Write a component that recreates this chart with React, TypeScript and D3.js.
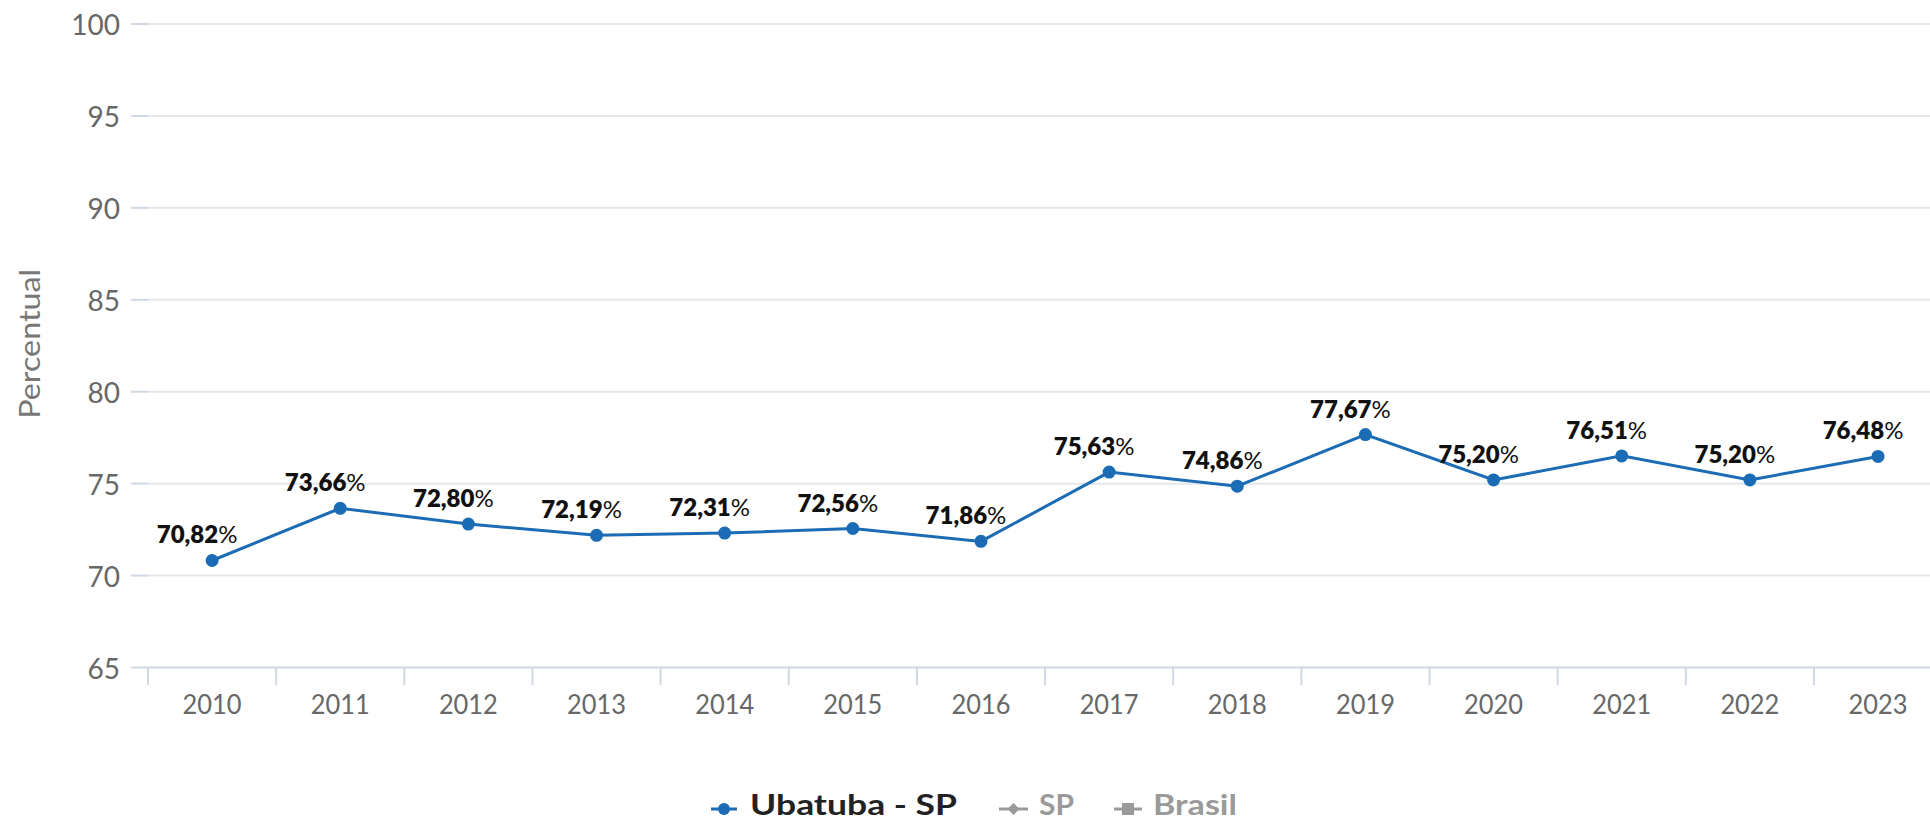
import React from "react";
import * as d3 from "d3";

const years = ["2010","2011","2012","2013","2014","2015","2016","2017","2018","2019","2020","2021","2022","2023"];
const ubatuba = [70.82,73.66,72.80,72.19,72.31,72.56,71.86,75.63,74.86,77.67,75.20,76.51,75.20,76.48];
const yTicks = [65,70,75,80,85,90,95,100];
const legendItems = ["Ubatuba - SP", "SP", "Brasil"];

const W = 1930, H = 822;
const FONT = "Lato, 'Open Sans', sans-serif";
const BLUE = "#1b6cb4";

export default function App() {
  const band = 128.15;
  const x = d3.scaleBand<string>().domain(years).range([148, 148 + band * years.length]).padding(0);
  const y = d3.scaleLinear().domain([65, 100]).range([667.5, 24]);
  const cx = (yr: string) => (x(yr) as number) + x.bandwidth() / 2;
  const line = d3.line<number>().x((_, i) => cx(years[i])).y(d => y(d));
  const fmt = (v: number) => v.toFixed(2).replace(".", ",");
  const LY = 809, LB = 815;

  return (
    <svg width={W} height={H} style={{ position: "absolute", left: 0, top: 0, background: "#fff" }} fontFamily={FONT}>
      {/* grid */}
      {yTicks.map(t => (
        <g key={t}>
          <line x1={148} x2={W} y1={y(t)} y2={y(t)} stroke={t === 65 ? "#cfd8e3" : "#e3e7ec"} strokeWidth={2} />
          <line x1={131} x2={148} y1={y(t)} y2={y(t)} stroke="#cfd8e3" strokeWidth={2} />
          <text x={120} y={y(t)} textAnchor="end" dominantBaseline="central" fontSize={28} fill="#676767">{t}</text>
        </g>
      ))}
      {/* x ticks */}
      {years.map(yr => (
        <line key={"t" + yr} x1={x(yr) as number} x2={x(yr) as number} y1={667.5} y2={685} stroke="#cfd8e3" strokeWidth={2} />
      ))}
      {years.map(yr => (
        <text key={"l" + yr} x={cx(yr)} y={703} textAnchor="middle" dominantBaseline="central" fontSize={27} fill="#676767" textLength={59} lengthAdjust="spacingAndGlyphs">{yr}</text>
      ))}
      <text transform={`translate(28,${y(82.5) - 2}) rotate(-90)`} textAnchor="middle" dominantBaseline="central" fontSize={29} fill="#777" textLength={150} lengthAdjust="spacingAndGlyphs">Percentual</text>
      {/* series */}
      <path d={line(ubatuba) || ""} fill="none" stroke={BLUE} strokeWidth={3} />
      {ubatuba.map((v, i) => (
        <circle key={"c" + i} cx={cx(years[i])} cy={y(v)} r={6.5} fill={BLUE} />
      ))}
      {ubatuba.map((v, i) => (
        <text key={"d" + i} x={cx(years[i]) - 15} y={y(v) - 17} textAnchor="middle" fontSize={24} fill="#111">
          <tspan fontWeight={800}>{fmt(v)}</tspan><tspan fontWeight={400}>%</tspan>
        </text>
      ))}
      {/* legend */}
      <g>
        <line x1={711} x2={737} y1={LY} y2={LY} stroke={BLUE} strokeWidth={3} />
        <circle cx={724} cy={LY} r={6} fill={BLUE} />
        <text x={750} y={LB} fontSize={28} fontWeight={700} fill="#222" textLength={207} lengthAdjust="spacingAndGlyphs">{legendItems[0]}</text>
        <line x1={999} x2={1028} y1={LY} y2={LY} stroke="#9a9a9a" strokeWidth={3} />
        <path d={`M1013.5,${LY - 6} L1019.5,${LY} L1013.5,${LY + 6} L1007.5,${LY} Z`} fill="#9a9a9a" />
        <text x={1039} y={LB} fontSize={28} fontWeight={700} fill="#9a9a9a" textLength={35} lengthAdjust="spacingAndGlyphs">{legendItems[1]}</text>
        <line x1={1114} x2={1142} y1={LY} y2={LY} stroke="#9a9a9a" strokeWidth={3} />
        <rect x={1122} y={LY - 6} width={12} height={12} fill="#9a9a9a" />
        <text x={1153} y={LB} fontSize={28} fontWeight={700} fill="#9a9a9a" textLength={84} lengthAdjust="spacingAndGlyphs">{legendItems[2]}</text>
      </g>
    </svg>
  );
}
